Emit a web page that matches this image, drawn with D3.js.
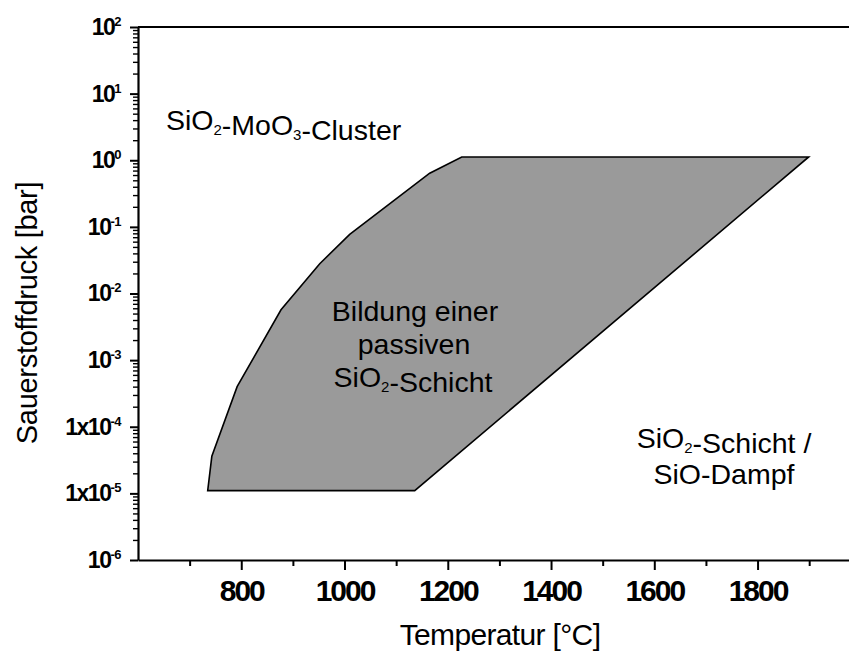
<!DOCTYPE html>
<html><head><meta charset="utf-8">
<script src="https://cdn.jsdelivr.net/npm/d3@7"></script>
<style>
html,body{margin:0;padding:0;background:#fff;}
svg{display:block;}
</style></head>
<body>
<svg id="chart" width="849" height="658"></svg>
<script>
// ---- data ----
const xTicks = [800, 1000, 1200, 1400, 1600, 1800];
const xMinorTicks = [700, 900, 1100, 1300, 1500, 1700, 1900];
const yTickValues = [1e2, 1e1, 1e0, 1e-1, 1e-2, 1e-3, 1e-4, 1e-5, 1e-6];
const yTickBases = ["10", "10", "10", "10", "10", "10", "1x10", "1x10", "10"];
const yTickExps = ["2", "1", "0", "-1", "-2", "-3", "-4", "-5", "-6"];
const regionTemp = [735, 743, 792, 877, 952, 1010, 1165, 1227, 1899, 1136];
const regionPressure = [1.1e-5, 3.6e-5, 4.0e-4, 5.7e-3, 2.8e-2, 7.7e-2, 0.64, 1.12, 1.12, 1.1e-5];

// ---- layout ----
const svg = d3.select("#chart");
const plotLeft = 138, plotTop = 27, plotBottom = 560;
const pxPerDeg = 0.5163;
const x = d3.scaleLinear().domain([600, 2000]).range([plotLeft, plotLeft + 1400 * pxPerDeg]);
const y = d3.scaleLog().domain([1e-6, 1e2]).range([plotBottom, plotTop]);
const FONT = "'Liberation Sans', Arial, sans-serif";

// region polygon
const pts = regionTemp.map((t, i) => ({t, p: regionPressure[i]}));
const line = d3.line().x(d => x(d.t)).y(d => y(d.p));
svg.append("path")
  .attr("d", line(pts) + "Z")
  .attr("fill", "#9a9a9a")
  .attr("stroke", "#000")
  .attr("stroke-width", 1.6)
  .attr("stroke-linejoin", "miter");

// y minor ticks
const yMinor = [];
for (let e = -6; e < 2; e++) for (let m = 2; m <= 9; m++) yMinor.push(m * Math.pow(10, e));
const gyMinor = svg.append("g").attr("transform", `translate(${plotLeft},0)`)
  .call(d3.axisLeft(y).tickValues(yMinor).tickSize(5).tickSizeOuter(0).tickFormat(""));
gyMinor.select(".domain").remove();
gyMinor.selectAll(".tick line").attr("stroke", "#000").attr("stroke-width", 1.4);

// y axis major
const gy = svg.append("g").attr("transform", `translate(${plotLeft},0)`)
  .call(d3.axisLeft(y).tickValues(yTickValues).tickSize(8).tickSizeOuter(0).tickPadding(9));
gy.select(".domain").attr("stroke", "#000").attr("stroke-width", 2.2);
gy.selectAll(".tick line").attr("stroke", "#000").attr("stroke-width", 2);
gy.selectAll(".tick text")
  .attr("font-family", FONT).attr("font-weight", "bold").attr("font-size", 23)
  .attr("letter-spacing", -1.5).attr("fill", "#000")
  .text(null)
  .each(function(d, i) {
    const t = d3.select(this);
    t.append("tspan").text(yTickBases[i]);
    t.append("tspan").attr("dy", -9).attr("font-size", 13).attr("letter-spacing", -0.5).text(yTickExps[i]);
  });

// x minor ticks
const gxMinor = svg.append("g").attr("transform", `translate(0,${plotBottom})`)
  .call(d3.axisBottom(x).tickValues(xMinorTicks).tickSize(6).tickSizeOuter(0).tickFormat(""));
gxMinor.select(".domain").remove();
gxMinor.selectAll(".tick line").attr("stroke", "#000").attr("stroke-width", 2);

// x axis
const gx = svg.append("g").attr("transform", `translate(0,${plotBottom})`)
  .call(d3.axisBottom(x).tickValues(xTicks).tickSize(10).tickSizeOuter(0).tickPadding(10).tickFormat(d3.format("d")));
gx.select(".domain").attr("stroke", "#000").attr("stroke-width", 2.2);
gx.selectAll(".tick line").attr("stroke", "#000").attr("stroke-width", 2);
gx.selectAll(".tick text")
  .attr("font-family", FONT).attr("font-weight", "bold").attr("font-size", 30)
  .attr("letter-spacing", -2).attr("fill", "#000");

// top border
svg.append("line")
  .attr("x1", plotLeft).attr("x2", x(2000)).attr("y1", y(1e2)).attr("y2", y(1e2))
  .attr("stroke", "#000").attr("stroke-width", 2.2);

// axis titles
svg.append("text")
  .attr("x", 500).attr("y", 645)
  .attr("text-anchor", "middle")
  .attr("font-family", FONT).attr("font-size", 30).attr("letter-spacing", -0.65).attr("fill", "#000")
  .text("Temperatur [°C]");
svg.append("text")
  .attr("transform", "translate(37,313) rotate(-90)")
  .attr("text-anchor", "middle")
  .attr("font-family", FONT).attr("font-size", 29).attr("letter-spacing", -0.3).attr("fill", "#000")
  .text("Sauerstoffdruck [bar]");

// annotations
function chem(sel, parts) {
  parts.forEach(p => {
    if (p.sub) {
      sel.append("tspan").attr("font-size", 15).attr("dy", 5).text(p.sub);
      sel.append("tspan").attr("dy", -5).text("");
    } else {
      sel.append("tspan").text(p.t);
    }
  });
}
const ann = svg.append("g").attr("font-family", FONT).attr("font-size", 28.5).attr("fill", "#000");
chem(ann.append("text").attr("x", 166).attr("y", 130),
  [{t: "SiO"}, {sub: "2"}, {t: "-MoO"}, {sub: "3"}, {t: "-Cluster"}]);
ann.append("text").attr("x", 415).attr("y", 321).attr("text-anchor", "middle").text("Bildung einer");
ann.append("text").attr("x", 414).attr("y", 354).attr("text-anchor", "middle").text("passiven");
chem(ann.append("text").attr("x", 413).attr("y", 387).attr("text-anchor", "middle"),
  [{t: "SiO"}, {sub: "2"}, {t: "-Schicht"}]);
chem(ann.append("text").attr("x", 724).attr("y", 448).attr("text-anchor", "middle"),
  [{t: "SiO"}, {sub: "2"}, {t: "-Schicht /"}]);
ann.append("text").attr("x", 724).attr("y", 484).attr("text-anchor", "middle").text("SiO-Dampf");
</script>
</body></html>
